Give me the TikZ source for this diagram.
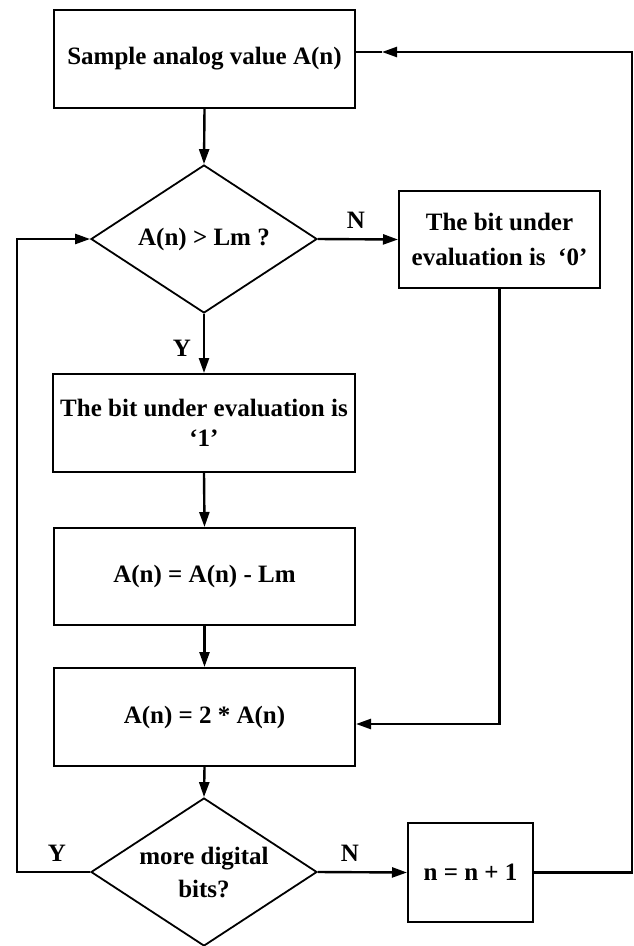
\documentclass[tikz,border=0pt]{standalone}
\usepackage{fontspec}
\setmainfont{Liberation Serif}
\usetikzlibrary{shapes.geometric,arrows.meta}
\begin{document}
\begin{tikzpicture}[x=1pt,y=-1pt,
  font=\fontsize{25}{32}\selectfont\bfseries,
  box/.style={draw,line width=2pt,rectangle,inner sep=0pt,align=center},
  dia/.style={draw,line width=1.8pt,diamond,aspect=1.53,inner sep=0pt,minimum width=226pt,minimum height=148pt,align=center},
  arr/.style={line width=2.4pt,-{Triangle[length=15pt,width=10pt]}},
  conn/.style={line width=2.4pt},
  lbl/.style={inner sep=0pt}]
\useasboundingbox (0,0) rectangle (634,946);
% nodes
\node[box,minimum width=301pt,minimum height=98pt] (s) at (204.5,59) {Sample analog value A(n)};
\node[dia] (d1) at (204,239) {A(n) > Lm ?};
\node[box,minimum width=201pt,minimum height=97pt,font=\fontsize{25}{35}\selectfont\bfseries] (b0) at (499.5,239.5) {The bit under\\evaluation is\ \ ‘0’};
\node[box,minimum width=302pt,minimum height=98pt,font=\fontsize{25}{30}\selectfont\bfseries] (b1) at (204,423) {The bit under evaluation is\\‘1’};
\node[box,minimum width=301pt,minimum height=97pt] (b2) at (204.5,576.5) {A(n) = A(n) - Lm};
\node[box,minimum width=301pt,minimum height=98pt] (b3) at (204.5,717) {A(n) = 2 * A(n)};
\node[dia,font=\fontsize{25}{33}\selectfont\bfseries] (d2) at (204,872) {more digital\\bits?};
\node[box,minimum width=125pt,minimum height=99pt] (b4) at (470.5,872.5) {n = n + 1};
% helper coordinates
\coordinate (L) at (17,0);
\coordinate (R) at (632,52);
\coordinate (fb) at (382,52);
% labels
\node[lbl] (nN1) at (356,220) {N};
\node[lbl] (nY1) at (182,348) {Y};
\node[lbl] (nY2) at (57,853) {Y};
\node[lbl] (nN2) at (350,853) {N};
% connectors
\draw[arr] (s.south) -- (d1.north);
\draw[arr] (d1.east) -- (b0.west);
\draw[arr] (d1.south) -- (b1.north);
\draw[arr] (b1.south) -- (b2.north);
\draw[arr] (b2.south) -- (b3.north);
\draw[arr] (b0.south) |- ([yshift=-7pt]b3.east);
\draw[arr] (b3.south) -- (d2.north);
\draw[arr] (d2.west) -- (d2.west -| L) |- (d1.west);
\draw[arr] (d2.east) -- (b4.west);
\draw[arr] (b4.east) -| (R) -- (fb);
\draw[conn] (fb) -- ([yshift=7pt]s.east);
\end{tikzpicture}
\end{document}
